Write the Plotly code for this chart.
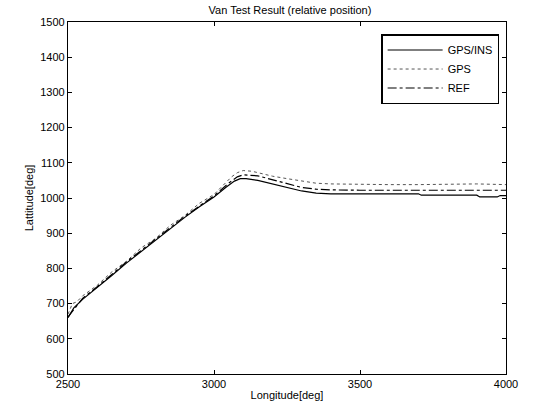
import plotly.graph_objects as go

# GPS/INS (solid)
ins_x = [2500, 2520, 2550, 2600, 2650, 2700, 2750, 2800, 2850, 2900, 2950, 3000, 3040, 3070, 3090, 3110, 3150, 3200, 3250, 3300, 3350, 3400, 3500, 3600, 3700, 3710, 3900, 3910, 3970, 3980, 4000]
ins_y = [660, 688, 712, 745, 780, 815, 848, 880, 912, 945, 975, 1003, 1030, 1048, 1055, 1055, 1050, 1040, 1030, 1020, 1014, 1012, 1012, 1012, 1012, 1008, 1008, 1003, 1003, 1007, 1007]

# GPS (dotted)
gps_x = [2500, 2515, 2530, 2550, 2600, 2650, 2700, 2750, 2800, 2850, 2900, 2950, 3000, 3030, 3060, 3080, 3100, 3130, 3170, 3200, 3250, 3300, 3350, 3400, 3500, 3600, 3700, 3800, 3900, 4000]
gps_y = [670, 700, 705, 722, 752, 790, 820, 858, 885, 922, 950, 985, 1010, 1035, 1060, 1072, 1078, 1076, 1068, 1062, 1055, 1048, 1042, 1040, 1038, 1038, 1038, 1040, 1040, 1038]

# REF (dash-dot)
ref_x = [2500, 2550, 2600, 2700, 2800, 2900, 3000, 3050, 3080, 3100, 3150, 3200, 3250, 3300, 3350, 3400, 3500, 3600, 3700, 3800, 3900, 4000]
ref_y = [662, 715, 748, 818, 883, 948, 1006, 1042, 1060, 1066, 1063, 1052, 1040, 1030, 1025, 1023, 1022, 1022, 1022, 1022, 1022, 1022]

x_ticks = [2500, 3000, 3500, 4000]
y_ticks = [500, 600, 700, 800, 900, 1000, 1100, 1200, 1300, 1400, 1500]

fig = go.Figure()
fig.add_trace(go.Scatter(x=ins_x, y=ins_y, mode="lines", name="GPS/INS",
                         line=dict(color="black", width=1.2)))
fig.add_trace(go.Scatter(x=gps_x, y=gps_y, mode="lines", name="GPS",
                         line=dict(color="#555555", width=1, dash="dot")))
fig.add_trace(go.Scatter(x=ref_x, y=ref_y, mode="lines", name="REF",
                         line=dict(color="black", width=1.2, dash="dashdot")))

axis_common = dict(showline=True, linecolor="black", linewidth=1.2, mirror="allticks",
                   ticks="inside", ticklen=4, tickcolor="black", showgrid=False,
                   zeroline=False, tickfont=dict(size=11, color="black"))

fig.update_layout(
    width=534, height=414,
    margin=dict(l=68, r=28, t=22, b=40),
    paper_bgcolor="white", plot_bgcolor="white",
    font=dict(family="Liberation Sans, Arial, sans-serif", size=11, color="black"),
    title=dict(text="Van Test Result (relative position)", x=0.543, xanchor="center",
               y=0.985, yanchor="top", font=dict(size=11)),
    xaxis=dict(range=[2500, 4000], tickvals=x_ticks, ticktext=[str(v) for v in x_ticks],
               title=dict(text="Longitude[deg]", standoff=2, font=dict(size=11)), **axis_common),
    yaxis=dict(range=[500, 1500], tickvals=y_ticks, ticktext=[str(v) for v in y_ticks],
               title=dict(text="Lattitude[deg]", standoff=4, font=dict(size=11)), **axis_common),
    legend=dict(x=0.985, y=0.965, xanchor="right", yanchor="top",
                bgcolor="white", bordercolor="black", borderwidth=1.2,
                font=dict(size=11), itemwidth=55, tracegroupgap=0),
    showlegend=True,
)

fig.write_html("out.html")
